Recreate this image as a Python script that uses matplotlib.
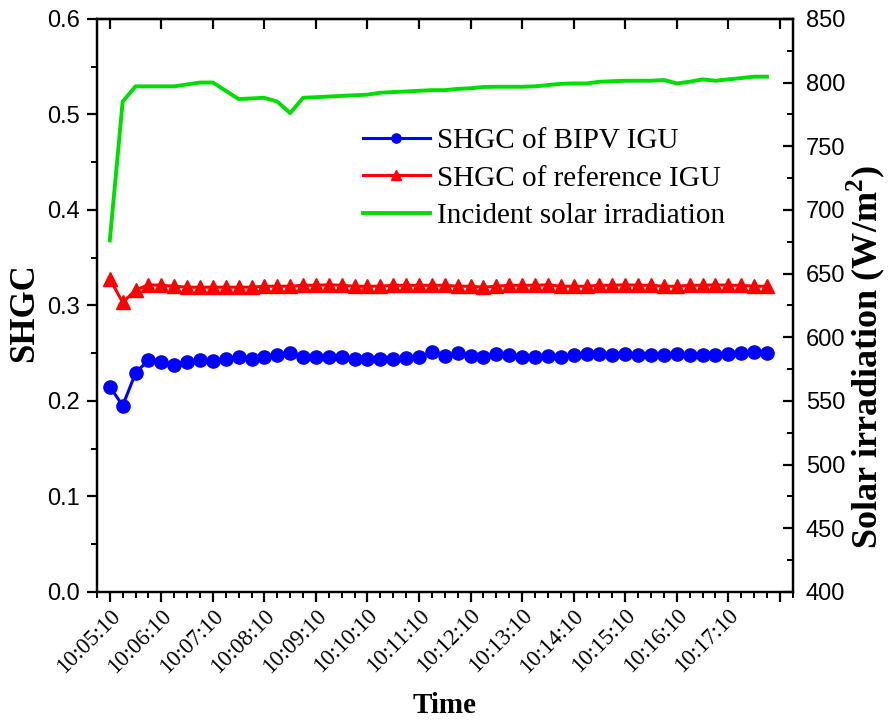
import numpy as np
import matplotlib.pyplot as plt
from matplotlib.ticker import FixedLocator, MultipleLocator
from matplotlib.transforms import ScaledTranslation

# sample times (15 s interval)
times = [
    "10:05:10", "10:05:25", "10:05:40", "10:05:55", "10:06:10", "10:06:25", "10:06:40", "10:06:55",
    "10:07:10", "10:07:25", "10:07:40", "10:07:55", "10:08:10", "10:08:25", "10:08:40", "10:08:55",
    "10:09:10", "10:09:25", "10:09:40", "10:09:55", "10:10:10", "10:10:25", "10:10:40", "10:10:55",
    "10:11:10", "10:11:25", "10:11:40", "10:11:55", "10:12:10", "10:12:25", "10:12:40", "10:12:55",
    "10:13:10", "10:13:25", "10:13:40", "10:13:55", "10:14:10", "10:14:25", "10:14:40", "10:14:55",
    "10:15:10", "10:15:25", "10:15:40", "10:15:55", "10:16:10", "10:16:25", "10:16:40", "10:16:55",
    "10:17:10", "10:17:25", "10:17:40", "10:17:55",
]

shgc_bipv = [
    0.215, 0.195, 0.229, 0.243, 0.241, 0.238, 0.241, 0.243, 0.242, 0.244, 0.246, 0.244, 0.246,
    0.248, 0.250, 0.246, 0.246, 0.246, 0.246, 0.244, 0.244, 0.244, 0.244, 0.245, 0.246, 0.251,
    0.247, 0.250, 0.247, 0.246, 0.249, 0.248, 0.246, 0.246, 0.247, 0.246, 0.248, 0.249, 0.249,
    0.248, 0.249, 0.248, 0.248, 0.248, 0.249, 0.248, 0.248, 0.248, 0.249, 0.250, 0.251, 0.250,
]

shgc_ref = [
    0.328, 0.303, 0.316, 0.3215, 0.321, 0.320, 0.319, 0.319, 0.319, 0.319, 0.319, 0.319, 0.320,
    0.320, 0.320, 0.321, 0.321, 0.3215, 0.321, 0.320, 0.320, 0.320, 0.321, 0.321, 0.321, 0.321,
    0.321, 0.320, 0.320, 0.319, 0.320, 0.321, 0.321, 0.321, 0.3215, 0.320, 0.320, 0.320, 0.321,
    0.321, 0.3215, 0.321, 0.321, 0.320, 0.320, 0.321, 0.321, 0.3215, 0.321, 0.321, 0.320, 0.320,
]

irradiation = [
    676, 785, 797, 797, 797, 797, 798.5, 800, 800, 793.5, 787, 787.5, 788,
    785, 776, 788, 788.5, 789, 789.5, 790, 790.5, 792, 792.5, 793, 793.5, 794,
    794, 795, 795.5, 796.5, 796.7, 796.7, 796.7, 797, 798, 799, 799.3, 799.3, 800.6,
    801, 801.4, 801.4, 801.4, 802, 799.3, 800.6, 802.5, 801.4, 802.5, 803.5, 804.6, 804.6,
]

xtick_times = [
    "10:05:10", "10:06:10", "10:07:10", "10:08:10", "10:09:10", "10:10:10", "10:11:10",
    "10:12:10", "10:13:10", "10:14:10", "10:15:10", "10:16:10", "10:17:10", "10:18:10",
]
xtick_labels = xtick_times[:-1] + [""]


def to_sec(s):
    h, m, sec = (int(v) for v in s.split(":"))
    return h * 3600 + m * 60 + sec


t0 = to_sec(times[0])
x = np.array([to_sec(t) - t0 for t in times])
xt = [to_sec(t) - t0 for t in xtick_times]

SERIF = "Liberation Serif"
SANS = "Liberation Sans"
plt.rcParams["font.family"] = SERIF

fig = plt.figure(figsize=(8.89, 7.2), dpi=100)
ax = fig.add_axes([0.109, 0.178, 0.7827, 0.7958])
ax2 = ax.twinx()

l1, = ax.plot(x, shgc_bipv, color="#0000ff", marker="o", markersize=9.5, linewidth=2.2,
              label="SHGC of BIPV IGU")
l2, = ax.plot(x, shgc_ref, color="#ff0000", marker="^", markersize=10.5, linewidth=2.2,
              label="SHGC of reference IGU")
l3, = ax2.plot(x, irradiation, color="#00dd00", linewidth=2.8, label="Incident solar irradiation")

ax.set_xlim(-15, 795)
ax.xaxis.set_major_locator(FixedLocator(xt))
ax.set_xticklabels(xtick_labels)
ax.xaxis.set_minor_locator(MultipleLocator(15))

ax.yaxis.set_major_locator(MultipleLocator(0.1))
ax.yaxis.set_minor_locator(MultipleLocator(0.05))
ax2.yaxis.set_major_locator(MultipleLocator(50))
ax2.yaxis.set_minor_locator(MultipleLocator(25))
ax.yaxis.set_major_formatter(lambda v, p: f"{v:.1f}")
ax2.yaxis.set_major_formatter(lambda v, p: f"{v:.0f}")
ax.set_ylim(0, 0.6)
ax2.set_ylim(400, 850)

for a in (ax, ax2):
    for sp in a.spines.values():
        sp.set_linewidth(1.6)
ax.tick_params(which="major", length=7.5, width=1.6, direction="out")
ax.tick_params(which="minor", length=4, width=1.4, direction="out")
ax2.tick_params(which="major", length=7.5, width=1.6, direction="in")
ax2.tick_params(which="minor", length=4, width=1.4, direction="in")
ax.tick_params(axis="x", pad=6)
ax.tick_params(axis="y", pad=5, labelsize=17, labelfontfamily=SANS)
ax2.tick_params(axis="y", pad=9.5, labelsize=17, labelfontfamily=SANS)

top = ax.secondary_xaxis("top")
top.set_xticks(xt, labels=[])
top.tick_params(direction="in", length=7.5, width=1.6)
top.spines["top"].set_linewidth(1.6)

ax.set_xlabel("Time", fontweight="bold", fontsize=21, labelpad=10.5)
ax.set_ylabel("SHGC", fontweight="bold", fontsize=25)
ax.yaxis.set_label_coords(-0.08, 0.487)
ax2.set_ylabel("Solar irradiation (W/m$^\\mathregular{2}$)", fontweight="bold", fontsize=26)
ax2.yaxis.set_label_coords(1.074, 0.41)

ax2.legend(handles=[l1, l2, l3], loc="upper left", bbox_to_anchor=(0.382, 0.81),
           frameon=False, borderpad=0, borderaxespad=0, handlelength=2.3,
           handletextpad=0.25, labelspacing=0.38, markerscale=0.7,
           prop={"family": SERIF, "size": 21})

# rotated time labels, shifted so their ends sit just right of the ticks
for lbl in ax.get_xticklabels():
    lbl.set_fontfamily(SERIF)
    lbl.set_fontsize(16.5)
    lbl.set_rotation(45)
    lbl.set_ha("right")
    lbl.set_va("center")
    lbl.set_rotation_mode("anchor")
    lbl.set_transform(lbl.get_transform() + ScaledTranslation(0.07, -0.02, fig.dpi_scale_trans))

fig.savefig("out.png", dpi=100)
